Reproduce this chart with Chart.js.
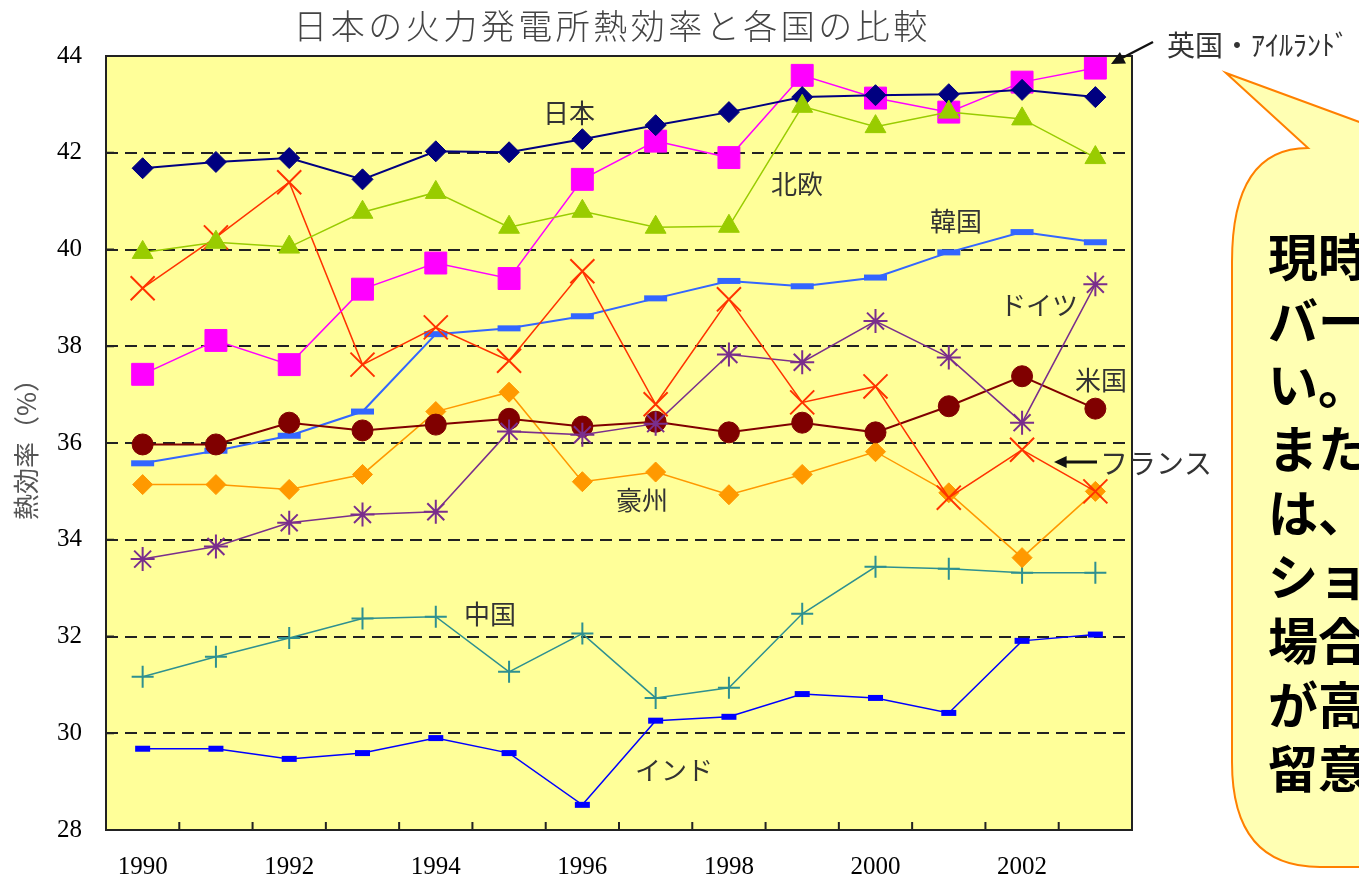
<!DOCTYPE html>
<html lang="ja">
<head>
<meta charset="utf-8">
<title>日本の火力発電所熱効率と各国の比較</title>
<script src="https://cdn.jsdelivr.net/npm/chart.js@4.4.1/dist/chart.umd.min.js"></script>
<style>
  html, body { margin: 0; padding: 0; background: #fff; }
  #wrap { position: relative; width: 1359px; height: 878px; }
</style>
</head>
<body>
<div id="wrap"><canvas id="grafico"></canvas></div>
<script>
const years = ['1990', '1991', '1992', '1993', '1994', '1995', '1996', '1997', '1998', '1999', '2000', '2001', '2002', '2003'];
const yTicks = [28, 30, 32, 34, 36, 38, 40, 42, 44];

const nordic    = [39.94, 40.15, 40.05, 40.77, 41.18, 40.46, 40.79, 40.46, 40.48, 42.96, 42.54, 42.84, 42.70, 41.90];
const japan     = [41.68, 41.81, 41.89, 41.45, 42.03, 42.01, 42.28, 42.57, 42.84, 43.15, 43.19, 43.21, 43.30, 43.15];
const uk        = [37.42, 38.12, 37.62, 39.18, 39.72, 39.40, 41.45, 42.24, 41.90, 43.60, 43.13, 42.84, 43.46, 43.75];
const france    = [39.20, 40.25, 41.39, 37.62, 38.39, 37.70, 39.55, 36.80, 38.97, 36.84, 37.17, 34.87, 35.86, 35.00];
const germany   = [33.60, 33.86, 34.35, 34.52, 34.58, 36.24, 36.17, 36.40, 37.83, 37.67, 38.52, 37.77, 36.42, 39.28];
const usa       = [35.97, 35.97, 36.42, 36.26, 36.38, 36.50, 36.34, 36.44, 36.22, 36.42, 36.22, 36.76, 37.38, 36.71];
const australia = [35.14, 35.14, 35.04, 35.35, 36.65, 37.05, 35.20, 35.40, 34.93, 35.35, 35.82, 34.97, 33.63, 35.00];
const korea     = [35.58, 35.84, 36.15, 36.65, 38.25, 38.37, 38.62, 38.99, 39.35, 39.24, 39.42, 39.94, 40.36, 40.15];
const china     = [31.17, 31.58, 31.97, 32.37, 32.41, 31.27, 32.06, 30.73, 30.94, 32.47, 33.44, 33.40, 33.32, 33.32];
const india     = [29.68, 29.68, 29.47, 29.59, 29.90, 29.59, 28.52, 30.26, 30.34, 30.81, 30.73, 30.42, 31.91, 32.04];

const jp = '"Noto Sans CJK JP", "Noto Sans", sans-serif';
const serif = '"Liberation Serif", "DejaVu Serif", serif';

// text labels placed next to the lines
const seriesNotes = [
  ['日本', 569, 113], ['北欧', 797, 184], ['韓国', 956, 221], ['ドイツ', 1039, 305],
  ['米国', 1101, 380], ['豪州', 642, 500], ['中国', 490, 614], ['インド', 674, 770]
];
const bubbleLines = ['現時', 'バー', 'い。', 'また', 'は、', 'ショ', '場合', 'が高', '留意'];

function serie(label, data, color, style, radius, lineW, pointW) {
  return {
    label: label,
    data: data,
    borderColor: color,
    backgroundColor: color,
    borderWidth: lineW,
    pointStyle: style,
    pointRadius: radius,
    pointBorderWidth: pointW,
    pointBackgroundColor: color,
    pointBorderColor: color,
    tension: 0,
    clip: false
  };
}

function arrowHead(ctx, x1, y1, x2, y2, size) {
  const a = Math.atan2(y2 - y1, x2 - x1);
  ctx.beginPath();
  ctx.moveTo(x2, y2);
  ctx.lineTo(x2 - size * Math.cos(a - 0.45), y2 - size * Math.sin(a - 0.45));
  ctx.lineTo(x2 - size * Math.cos(a + 0.45), y2 - size * Math.sin(a + 0.45));
  ctx.closePath();
  ctx.fill();
}

const background = {
  id: 'background',
  beforeDraw(chart) {
    const {ctx, chartArea: a} = chart;
    ctx.save();
    ctx.fillStyle = '#fff';
    ctx.fillRect(0, 0, chart.width, chart.height);
    ctx.fillStyle = '#FFFF99';
    ctx.fillRect(a.left, a.top, a.right - a.left, a.bottom - a.top);
    ctx.restore();
  }
};

const extras = {
  id: 'extras',
  afterDraw(chart) {
    const {ctx, chartArea: a, scales: {x, y}} = chart;
    ctx.save();

    // frame and inner tick marks
    ctx.strokeStyle = '#222';
    ctx.lineWidth = 2;
    ctx.strokeRect(a.left, a.top, a.right - a.left, a.bottom - a.top);
    ctx.beginPath();
    for (let i = 1; i < years.length; i++) {
      const px = (x.getPixelForValue(i - 1) + x.getPixelForValue(i)) / 2;
      ctx.moveTo(px, a.bottom);
      ctx.lineTo(px, a.bottom - 8);
    }
    yTicks.slice(1, -1).forEach(v => {
      const py = y.getPixelForValue(v);
      ctx.moveTo(a.left, py);
      ctx.lineTo(a.left + 8, py);
    });
    ctx.stroke();

    // title
    ctx.fillStyle = '#444';
    ctx.font = '300 34px ' + jp;
    ctx.textAlign = 'center';
    ctx.textBaseline = 'middle';
    ctx.letterSpacing = '3.5px';
    ctx.fillText('日本の火力発電所熱効率と各国の比較', 612, 26);
    ctx.letterSpacing = '0px';

    // series names
    ctx.fillStyle = '#333';
    ctx.font = '26px ' + jp;
    seriesNotes.forEach(n => ctx.fillText(n[0], n[1], n[2]));

    // フランス arrow
    ctx.strokeStyle = '#111';
    ctx.fillStyle = '#111';
    ctx.lineWidth = 3;
    ctx.beginPath();
    ctx.moveTo(1097, 462);
    ctx.lineTo(1064, 462);
    ctx.stroke();
    arrowHead(ctx, 1097, 462, 1054, 462, 14);
    ctx.fillStyle = '#333';
    ctx.textAlign = 'left';
    ctx.font = '28px ' + jp;
    ctx.fillText('フランス', 1100, 463);

    // 英国・アイルランド arrow
    ctx.lineWidth = 2.5;
    ctx.strokeStyle = '#111';
    ctx.fillStyle = '#111';
    ctx.beginPath();
    ctx.moveTo(1153, 42);
    ctx.lineTo(1122, 58);
    ctx.stroke();
    arrowHead(ctx, 1153, 42, 1111, 64, 15);
    ctx.fillStyle = '#333';
    ctx.font = '28px ' + jp;
    ctx.fillText('英国・ｱｲﾙﾗﾝﾄﾞ', 1167, 45);

    // callout bubble
    ctx.beginPath();
    ctx.moveTo(1226, 73);
    ctx.lineTo(1308, 148);
    ctx.quadraticCurveTo(1232, 148, 1232, 262);
    ctx.lineTo(1232, 762);
    ctx.quadraticCurveTo(1232, 867, 1320, 867);
    ctx.lineTo(1500, 867);
    ctx.lineTo(1500, 148);
    ctx.lineTo(1430, 148);
    ctx.closePath();
    ctx.fillStyle = '#FFFFB3';
    ctx.fill();
    ctx.strokeStyle = '#FF8000';
    ctx.lineWidth = 2;
    ctx.stroke();

    ctx.fillStyle = '#000';
    ctx.font = 'bold 50px ' + jp;
    ctx.textBaseline = 'middle';
    bubbleLines.forEach((t, i) => ctx.fillText(t, 1268, 257 + 64 * i));

    ctx.restore();
  }
};

const ctx = document.getElementById('grafico').getContext('2d');
const grafico = new Chart(ctx, {
  type: 'line',
  data: {
    labels: years,
    datasets: [
      serie('北欧', nordic, '#99CC00', 'triangle', 12, 1.5, 1),
      serie('日本', japan, '#000080', 'rectRot', 10.5, 2, 1),
      serie('英国・アイルランド', uk, '#FF00FF', 'rect', 15.5, 1.5, 1),
      serie('フランス', france, '#FF3300', 'crossRot', 17, 1.5, 2),
      serie('ドイツ', germany, '#7A2E8C', 'star', 12, 1.5, 2),
      serie('米国', usa, '#800000', 'circle', 10.5, 2, 1),
      serie('豪州', australia, '#FF9900', 'rectRot', 10, 1.5, 1),
      serie('韓国', korea, '#3366FF', 'line', 11.5, 2, 6),
      serie('中国', china, '#2E9090', 'cross', 11, 1.5, 2),
      serie('インド', india, '#0000FF', 'line', 7.5, 1.5, 6)
    ]
  },
  options: {
    responsive: true,
    maintainAspectRatio: false,
    animation: false,
    layout: {
      padding: { top: 56, right: 227, left: 0, bottom: 0 }
    },
    plugins: {
      legend: { display: false },
      title: { display: false },
      tooltip: { enabled: false }
    },
    scales: {
      x: {
        offset: true,
        grid: { display: false, drawTicks: false, offset: true },
        border: { display: false },
        ticks: {
          autoSkip: false,
          maxRotation: 0,
          padding: 22,
          color: '#000',
          font: { family: serif, size: 25 },
          callback: (v, i) => (i % 2 === 0 ? years[i] : '')
        },
        afterFit: s => { s.height = 48; }
      },
      y: {
        min: 28,
        max: 44,
        afterBuildTicks: s => { s.ticks = yTicks.map(v => ({ value: v })); },
        afterFit: s => { s.width = 106; },
        grid: {
          drawTicks: false,
          lineWidth: 2,
          color: c => (c.tick && (c.tick.value === 28 || c.tick.value === 44)) ? 'rgba(0,0,0,0)' : '#222'
        },
        border: { display: false, dash: [12, 7] },
        ticks: {
          padding: 24,
          color: '#000',
          font: { family: serif, size: 25 }
        },
        title: {
          display: true,
          text: '熱効率（%）',
          color: '#555',
          font: { family: jp, size: 26 },
          padding: { top: 11, bottom: 0 }
        }
      }
    }
  },
  plugins: [background, extras]
});
</script>
</body>
</html>
